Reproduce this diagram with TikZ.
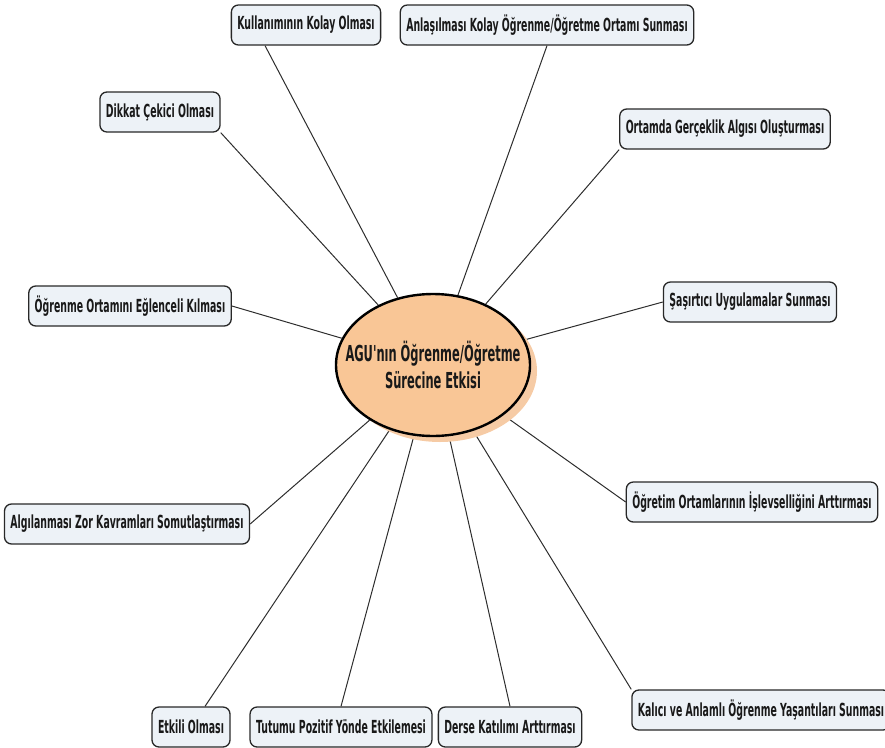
\documentclass[tikz,border=0pt]{standalone}
\usepackage{fontspec}
\newfontfamily\mapfont[FakeStretch=0.52]{DejaVu Sans}
\usetikzlibrary{shapes.geometric,shadows}
\pgfdeclarelayer{background}
\pgfsetlayers{background,main}

\definecolor{boxfill}{RGB}{237,242,247}
\definecolor{boxline}{RGB}{40,40,40}
\definecolor{hubfill}{RGB}{249,198,150}
\definecolor{hubshadow}{RGB}{246,203,165}
\definecolor{linkcol}{RGB}{45,45,45}

\tikzset{
    topic/.style={draw=boxline, line width=1.3pt, fill=boxfill, rounded corners=7pt,
        minimum height=40pt, inner xsep=6pt, text=black!90,
        font=\mapfont\bfseries\fontsize{18}{20}\selectfont},
    hub/.style={ellipse, draw=black, line width=2.4pt, fill=hubfill,
        minimum width=194pt, minimum height=142pt, inner sep=-30pt, align=center,
        text=black!90, font=\mapfont\bfseries\fontsize{22}{27}\selectfont,
        drop shadow={shadow xshift=7pt, shadow yshift=-6pt, fill=hubshadow, opacity=1}},
    link/.style={draw=linkcol, line width=1pt}
}

\begin{document}
\begin{tikzpicture}[x=1pt, y=-1pt]
    \useasboundingbox (0,0) rectangle (885,747);

    % central idea
    \node[hub] (ell) at (433,365) {AGU'nın Öğrenme/Öğretme\\Sürecine Etkisi};

    \begin{scope}[every node/.style={topic}]
        \node (kul) at (306,25) {Kullanımının Kolay Olması};
        \node (anl) at (547,25) {Anlaşılması Kolay Öğrenme/Öğretme Ortamı Sunması};
        \node (dik) at (160,112) {Dikkat Çekici Olması};
        \node (ort) at (725,129) {Ortamda Gerçeklik Algısı Oluşturması};
        \node (egl) at (130,306) {Öğrenme Ortamını Eğlenceli Kılması};
        \node (sas) at (750,302) {Şaşırtıcı Uygulamalar Sunması};
        \node (alg) at (127,524) {Algılanması Zor Kavramları Somutlaştırması};
        \node (isl) at (752,502) {Öğretim Ortamlarının İşlevselliğini Arttırması};
        \node (etk) at (191,727) {Etkili Olması};
        \node (tut) at (341,727) {Tutumu Pozitif Yönde Etkilemesi};
        \node (der) at (510,727) {Derse Katılımı Arttırması};
        \node (kal) at (761,710) {Kalıcı ve Anlamlı Öğrenme Yaşantıları Sunması};
    \end{scope}

    % spokes
    \begin{pgfonlayer}{background}
        \begin{scope}[every edge/.style={link}]
            \path (ell) edge ([xshift=-41pt]kul.south);
            \path (ell) edge (anl.south);
            \path (ell) edge (dik.south east);
            \path (ell) edge (ort.south west);
            \path (ell) edge (egl.east);
            \path (ell) edge (sas.west);
            \path (ell) edge (alg.east);
            \path (ell) edge (isl.west);
            \path (ell) edge ([xshift=14pt]etk.north);
            \path (ell) edge (tut.north);
            \path (ell) edge (der.north);
            \path (ell) edge (kal.north west);
        \end{scope}
    \end{pgfonlayer}
\end{tikzpicture}
\end{document}
